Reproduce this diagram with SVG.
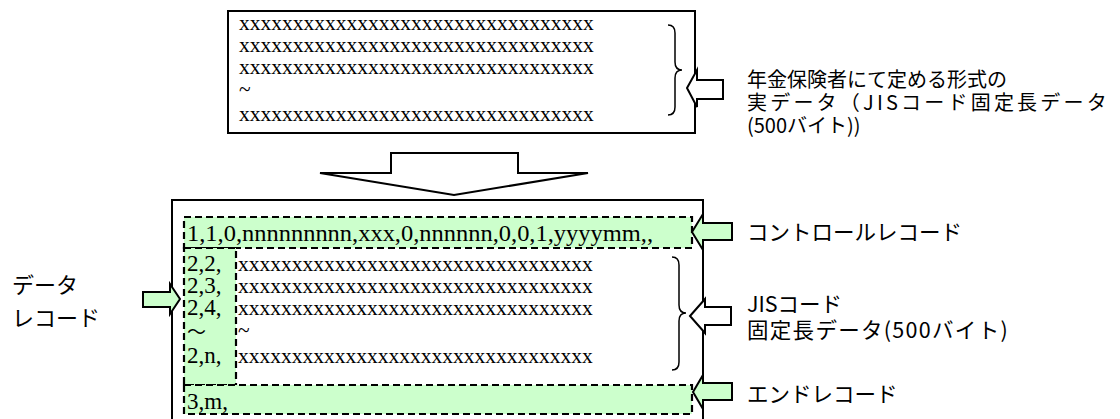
<svg xmlns="http://www.w3.org/2000/svg" width="1120" height="419" viewBox="0 0 1120 419">
<style>
.box{fill:#fff;stroke:#000;stroke-width:2}
.dash{fill:#ccffcc;stroke:#000;stroke-width:2.2;stroke-dasharray:7 4}
.brace{fill:none;stroke:#000;stroke-width:1.5}
.warrow{fill:#fff;stroke:#000;stroke-width:2;stroke-linejoin:miter}
.garrow{fill:#ccffcc;stroke:#000;stroke-width:2;stroke-linejoin:miter}
.serif{font-family:"Liberation Serif","Noto Sans CJK JP",serif;font-size:21.5px;fill:#000}
.serif2{font-family:"Liberation Serif","Noto Sans CJK JP",serif;font-size:23px;fill:#000}
.jp{font-family:"Noto Sans CJK JP",sans-serif;font-size:20px;fill:#000}
.jp2{font-family:"Noto Sans CJK JP",sans-serif;font-size:21.5px;fill:#000}
</style>
<g id="source">
<rect class="box" x="228" y="11" width="467" height="122"/>
<text class="serif"><tspan x="239" y="30">xxxxxxxxxxxxxxxxxxxxxxxxxxxxxxxxx</tspan><tspan x="239" y="52">xxxxxxxxxxxxxxxxxxxxxxxxxxxxxxxxx</tspan><tspan x="239" y="74">xxxxxxxxxxxxxxxxxxxxxxxxxxxxxxxxx</tspan><tspan x="239" y="96">~</tspan><tspan x="239" y="121">xxxxxxxxxxxxxxxxxxxxxxxxxxxxxxxxx</tspan></text>
<path class="brace" d="M668,25 Q675,25 675,33 L675,62 Q675,70 682,70 Q675,70 675,78 L675,107 Q675,115 668,115"/>
</g>
<g id="label-source">
<text class="jp"><tspan x="747" y="87">年金保険者にて定める形式の</tspan><tspan x="747" y="110" letter-spacing="3.2">実データ（JISコード固定長データ</tspan><tspan x="747" y="133">(500バイト))</tspan></text>
</g>
<g id="file">
<rect class="box" x="172" y="200" width="531" height="240"/>
<rect class="dash" x="184" y="217" width="508" height="31"/>
<rect class="dash" x="184" y="248" width="52" height="137"/>
<rect class="dash" x="184" y="385" width="508" height="29"/>
<text class="serif2" x="187" y="241" textLength="466" lengthAdjust="spacingAndGlyphs">1,1,0,nnnnnnnnn,xxx,0,nnnnnn,0,0,1,yyyymm,,</text>
<text class="serif2"><tspan x="187" y="271">2,2,</tspan><tspan x="187" y="293">2,3,</tspan><tspan x="187" y="315">2,4,</tspan><tspan x="187" y="339" style="font-size:19px">～</tspan><tspan x="187" y="363">2,n,</tspan></text>
<text class="serif"><tspan x="238" y="271">xxxxxxxxxxxxxxxxxxxxxxxxxxxxxxxxx</tspan><tspan x="238" y="293">xxxxxxxxxxxxxxxxxxxxxxxxxxxxxxxxx</tspan><tspan x="238" y="315">xxxxxxxxxxxxxxxxxxxxxxxxxxxxxxxxx</tspan><tspan x="238" y="337">~</tspan><tspan x="238" y="363">xxxxxxxxxxxxxxxxxxxxxxxxxxxxxxxxx</tspan></text>
<text class="serif2" x="187" y="409">3,m,</text>
<path class="brace" d="M672,257 Q679,257 679,265 L679,305 Q679,313 686,313 Q679,313 679,321 L679,362 Q679,370 672,370"/>
</g>
<g id="labels">
<text class="jp2" x="747" y="240">コントロールレコード</text>
<text class="jp2"><tspan x="747" y="312">JISコード</tspan><tspan x="747" y="338" letter-spacing="1.3">固定長データ(500バイト)</tspan></text>
<text class="jp2" x="747" y="402">エンドレコード</text>
<text class="jp2" style="font-size:22px"><tspan x="12" y="293">データ</tspan><tspan x="12" y="326">レコード</tspan></text>
</g>
<g id="connectors">
<polygon class="warrow" points="391,153 518,153 518,173 588,173 454,195 320,173 391,173"/>
<polygon class="warrow" points="687,88 697,70 697,80 723,80 723,99 697,99 697,107"/>
<polygon class="garrow" points="692,232 703,214 703,223 732,223 732,240 703,240 703,250"/>
<polygon class="warrow" points="690,316 705,299 705,307 731,307 731,325 705,325 705,333"/>
<polygon class="garrow" points="693,392 703,375 703,383 732,383 732,400 703,400 703,409"/>
<polygon class="garrow" points="143,292 170,292 170,284 180,299 170,314 170,307 143,307"/>
</g>
</svg>
